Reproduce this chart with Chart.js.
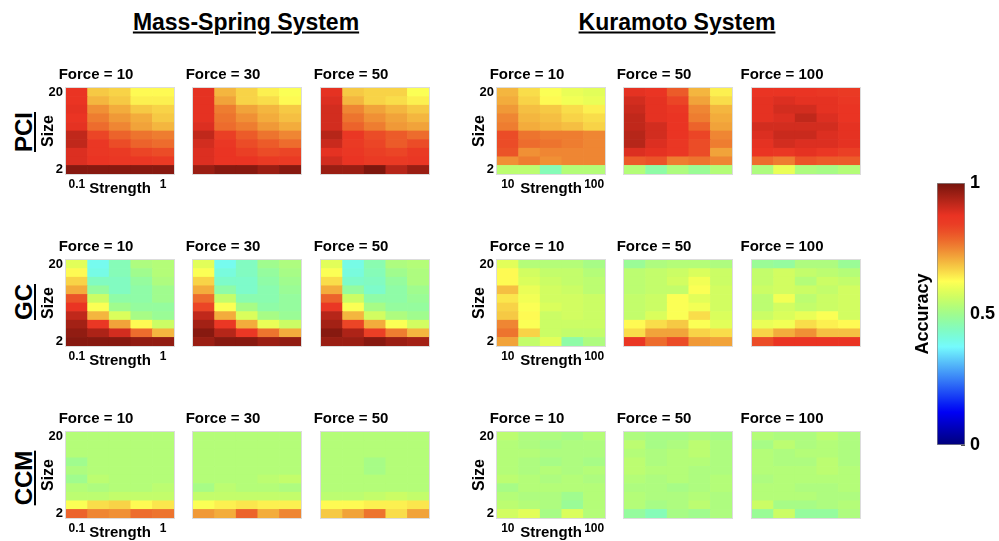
<!DOCTYPE html>
<html>
<head>
<meta charset="utf-8">
<script src="https://cdn.jsdelivr.net/npm/chart.js@4.4.1/dist/chart.umd.min.js"></script>
<style>
html, body { margin: 0; padding: 0; width: 999px; height: 541px; overflow: hidden; background: #fff; font-family: "Liberation Sans", Arial, sans-serif; }
canvas { position: absolute; }
.head { position: absolute; font-size: 23px; font-weight: bold; text-decoration: underline; white-space: nowrap; transform: translate(-50%, -50%); }
.rowlab { position: absolute; font-size: 24px; line-height: 26px; font-weight: bold; text-decoration: underline; white-space: nowrap; transform: translate(-50%, -50%) rotate(-90deg); }
</style>
</head>
<body>
<div class="head" style="left:246px; top:22px;">Mass-Spring System</div>
<div class="head" style="left:677px; top:22px;">Kuramoto System</div>
<div class="rowlab" style="left:24px; top:132px;">PCI</div>
<div class="rowlab" style="left:24px; top:302px;">GC</div>
<div class="rowlab" style="left:24px; top:478px;">CCM</div>
<div id="wrap"></div>

<script>
// categories
const methods = ['PCI', 'GC', 'CCM'];
const forcesMS = [10, 30, 50];
const forcesK = [10, 50, 100];
const sizes = ['2', '4', '6', '8', '10', '12', '14', '16', '18', '20'];
const strengthTicksMS = ['0.1', '', '', '', '1'];
const strengthTicksK = ['10', '', '', '', '100'];
const colorbarTicks = [0, 0.5, 1];
const colorbarMarks = [0, 0.1, 0.2, 0.3, 0.4, 0.5, 0.6, 0.7, 0.8, 0.9, 1];

// accuracy grids, rows listed from size 20 (top) down to size 2 (bottom)
const msPci10 = [
  [0.87, 0.68, 0.67, 0.63, 0.63],
  [0.87, 0.70, 0.68, 0.64, 0.64],
  [0.88, 0.74, 0.71, 0.68, 0.67],
  [0.87, 0.76, 0.73, 0.71, 0.68],
  [0.88, 0.78, 0.75, 0.72, 0.70],
  [0.92, 0.83, 0.79, 0.77, 0.76],
  [0.92, 0.86, 0.82, 0.79, 0.78],
  [0.89, 0.86, 0.85, 0.83, 0.82],
  [0.89, 0.87, 0.86, 0.86, 0.85],
  [0.98, 0.98, 0.98, 0.98, 0.98]
];
const msPci30 = [
  [0.88, 0.70, 0.67, 0.64, 0.62],
  [0.88, 0.72, 0.67, 0.66, 0.63],
  [0.88, 0.76, 0.72, 0.70, 0.68],
  [0.88, 0.77, 0.74, 0.71, 0.69],
  [0.89, 0.78, 0.76, 0.73, 0.71],
  [0.92, 0.84, 0.80, 0.77, 0.75],
  [0.90, 0.86, 0.82, 0.80, 0.78],
  [0.89, 0.87, 0.84, 0.82, 0.83],
  [0.89, 0.87, 0.87, 0.85, 0.85],
  [0.96, 0.98, 0.98, 0.96, 0.98]
];
const msPci50 = [
  [0.88, 0.68, 0.67, 0.67, 0.62],
  [0.89, 0.70, 0.67, 0.66, 0.64],
  [0.90, 0.75, 0.72, 0.70, 0.68],
  [0.90, 0.77, 0.74, 0.72, 0.70],
  [0.90, 0.79, 0.76, 0.73, 0.72],
  [0.93, 0.86, 0.82, 0.80, 0.78],
  [0.91, 0.85, 0.83, 0.80, 0.82],
  [0.88, 0.86, 0.84, 0.83, 0.85],
  [0.90, 0.87, 0.85, 0.85, 0.86],
  [0.96, 0.96, 0.99, 0.93, 0.96]
];
const kPci10 = [
  [0.70, 0.66, 0.62, 0.60, 0.59],
  [0.71, 0.67, 0.63, 0.61, 0.60],
  [0.73, 0.69, 0.68, 0.66, 0.64],
  [0.75, 0.70, 0.69, 0.67, 0.66],
  [0.76, 0.71, 0.70, 0.69, 0.67],
  [0.82, 0.77, 0.76, 0.76, 0.75],
  [0.82, 0.78, 0.77, 0.76, 0.75],
  [0.81, 0.74, 0.75, 0.75, 0.75],
  [0.74, 0.76, 0.74, 0.75, 0.75],
  [0.54, 0.54, 0.45, 0.53, 0.53]
];
const kPci50 = [
  [0.88, 0.87, 0.80, 0.70, 0.64],
  [0.90, 0.88, 0.83, 0.72, 0.66],
  [0.91, 0.88, 0.86, 0.75, 0.70],
  [0.92, 0.88, 0.87, 0.76, 0.71],
  [0.92, 0.90, 0.87, 0.79, 0.72],
  [0.93, 0.90, 0.87, 0.83, 0.75],
  [0.93, 0.89, 0.86, 0.82, 0.76],
  [0.89, 0.88, 0.86, 0.82, 0.72],
  [0.80, 0.81, 0.76, 0.77, 0.75],
  [0.53, 0.47, 0.52, 0.49, 0.53]
];
const kPci100 = [
  [0.87, 0.87, 0.87, 0.86, 0.85],
  [0.88, 0.89, 0.88, 0.88, 0.86],
  [0.88, 0.90, 0.90, 0.88, 0.87],
  [0.88, 0.89, 0.92, 0.89, 0.87],
  [0.90, 0.90, 0.90, 0.90, 0.88],
  [0.89, 0.91, 0.91, 0.89, 0.88],
  [0.88, 0.90, 0.89, 0.89, 0.88],
  [0.87, 0.86, 0.88, 0.86, 0.84],
  [0.78, 0.76, 0.81, 0.80, 0.80],
  [0.52, 0.60, 0.52, 0.51, 0.53]
];
const msGc10 = [
  [0.59, 0.39, 0.45, 0.52, 0.53],
  [0.63, 0.40, 0.45, 0.50, 0.53],
  [0.67, 0.44, 0.44, 0.48, 0.52],
  [0.71, 0.48, 0.44, 0.47, 0.50],
  [0.81, 0.56, 0.47, 0.47, 0.50],
  [0.87, 0.62, 0.50, 0.48, 0.48],
  [0.92, 0.70, 0.58, 0.51, 0.49],
  [0.95, 0.86, 0.72, 0.63, 0.56],
  [0.97, 0.94, 0.90, 0.78, 0.70],
  [0.98, 0.98, 0.98, 0.97, 0.97]
];
const msGc30 = [
  [0.59, 0.39, 0.44, 0.50, 0.52],
  [0.62, 0.41, 0.44, 0.48, 0.51],
  [0.67, 0.43, 0.43, 0.47, 0.50],
  [0.71, 0.47, 0.43, 0.46, 0.49],
  [0.78, 0.55, 0.46, 0.46, 0.48],
  [0.83, 0.62, 0.51, 0.47, 0.48],
  [0.92, 0.71, 0.58, 0.51, 0.49],
  [0.95, 0.86, 0.71, 0.60, 0.56],
  [0.98, 0.93, 0.86, 0.77, 0.71],
  [0.96, 0.98, 0.98, 0.96, 0.97]
];
const msGc50 = [
  [0.59, 0.40, 0.46, 0.52, 0.53],
  [0.62, 0.41, 0.45, 0.50, 0.52],
  [0.66, 0.43, 0.44, 0.48, 0.52],
  [0.71, 0.48, 0.43, 0.47, 0.50],
  [0.79, 0.56, 0.47, 0.47, 0.49],
  [0.86, 0.62, 0.51, 0.48, 0.48],
  [0.93, 0.70, 0.57, 0.52, 0.50],
  [0.95, 0.83, 0.71, 0.62, 0.57],
  [0.98, 0.94, 0.84, 0.76, 0.70],
  [0.96, 0.96, 0.98, 0.96, 0.95]
];
const kGc10 = [
  [0.59, 0.53, 0.53, 0.53, 0.51],
  [0.63, 0.57, 0.55, 0.55, 0.53],
  [0.63, 0.58, 0.56, 0.55, 0.54],
  [0.69, 0.60, 0.57, 0.56, 0.54],
  [0.65, 0.61, 0.57, 0.57, 0.56],
  [0.67, 0.62, 0.58, 0.57, 0.56],
  [0.68, 0.63, 0.56, 0.57, 0.56],
  [0.75, 0.62, 0.56, 0.56, 0.56],
  [0.77, 0.67, 0.56, 0.55, 0.55],
  [0.72, 0.55, 0.59, 0.47, 0.52]
];
const kGc50 = [
  [0.49, 0.52, 0.53, 0.53, 0.52],
  [0.54, 0.55, 0.56, 0.58, 0.56],
  [0.54, 0.55, 0.57, 0.61, 0.56],
  [0.54, 0.55, 0.55, 0.62, 0.57],
  [0.55, 0.56, 0.62, 0.59, 0.57],
  [0.55, 0.56, 0.62, 0.61, 0.57],
  [0.55, 0.58, 0.62, 0.66, 0.58],
  [0.63, 0.66, 0.68, 0.62, 0.59],
  [0.66, 0.72, 0.72, 0.67, 0.66],
  [0.86, 0.78, 0.82, 0.73, 0.72]
];
const kGc100 = [
  [0.49, 0.48, 0.52, 0.52, 0.49],
  [0.55, 0.57, 0.55, 0.54, 0.53],
  [0.55, 0.57, 0.53, 0.56, 0.55],
  [0.56, 0.57, 0.56, 0.55, 0.57],
  [0.54, 0.61, 0.54, 0.56, 0.57],
  [0.54, 0.57, 0.55, 0.56, 0.57],
  [0.56, 0.58, 0.60, 0.62, 0.57],
  [0.60, 0.61, 0.66, 0.64, 0.63],
  [0.67, 0.71, 0.74, 0.69, 0.69],
  [0.82, 0.87, 0.87, 0.87, 0.87]
];
const msCcm10 = [
  [0.53, 0.53, 0.53, 0.53, 0.53],
  [0.53, 0.53, 0.53, 0.53, 0.53],
  [0.53, 0.53, 0.53, 0.53, 0.53],
  [0.50, 0.53, 0.53, 0.53, 0.53],
  [0.52, 0.53, 0.53, 0.53, 0.53],
  [0.50, 0.54, 0.53, 0.53, 0.53],
  [0.53, 0.52, 0.53, 0.53, 0.54],
  [0.54, 0.54, 0.55, 0.55, 0.55],
  [0.62, 0.66, 0.67, 0.63, 0.65],
  [0.79, 0.75, 0.74, 0.78, 0.77]
];
const msCcm30 = [
  [0.53, 0.53, 0.53, 0.53, 0.53],
  [0.53, 0.53, 0.53, 0.53, 0.53],
  [0.53, 0.53, 0.53, 0.53, 0.53],
  [0.53, 0.53, 0.53, 0.53, 0.53],
  [0.53, 0.53, 0.53, 0.53, 0.53],
  [0.53, 0.53, 0.53, 0.54, 0.55],
  [0.51, 0.54, 0.53, 0.53, 0.52],
  [0.55, 0.55, 0.55, 0.55, 0.55],
  [0.62, 0.64, 0.65, 0.64, 0.64],
  [0.73, 0.71, 0.79, 0.71, 0.75]
];
const msCcm50 = [
  [0.53, 0.53, 0.53, 0.53, 0.53],
  [0.53, 0.53, 0.53, 0.53, 0.53],
  [0.53, 0.53, 0.53, 0.53, 0.53],
  [0.53, 0.53, 0.51, 0.53, 0.53],
  [0.53, 0.53, 0.51, 0.53, 0.53],
  [0.53, 0.53, 0.53, 0.53, 0.53],
  [0.53, 0.53, 0.53, 0.53, 0.53],
  [0.54, 0.54, 0.55, 0.56, 0.55],
  [0.63, 0.63, 0.64, 0.64, 0.65],
  [0.68, 0.72, 0.77, 0.66, 0.72]
];
const kCcm10 = [
  [0.54, 0.52, 0.52, 0.51, 0.53],
  [0.53, 0.52, 0.51, 0.52, 0.52],
  [0.53, 0.53, 0.52, 0.52, 0.52],
  [0.53, 0.52, 0.51, 0.52, 0.51],
  [0.53, 0.52, 0.53, 0.52, 0.53],
  [0.54, 0.53, 0.52, 0.53, 0.52],
  [0.51, 0.53, 0.53, 0.53, 0.53],
  [0.53, 0.52, 0.52, 0.50, 0.53],
  [0.54, 0.53, 0.52, 0.49, 0.53],
  [0.57, 0.59, 0.51, 0.58, 0.53]
];
const kCcm50 = [
  [0.52, 0.51, 0.51, 0.52, 0.51],
  [0.54, 0.51, 0.52, 0.54, 0.52],
  [0.53, 0.52, 0.53, 0.54, 0.52],
  [0.54, 0.52, 0.53, 0.53, 0.52],
  [0.54, 0.53, 0.53, 0.52, 0.52],
  [0.53, 0.52, 0.53, 0.52, 0.53],
  [0.52, 0.52, 0.51, 0.52, 0.53],
  [0.53, 0.52, 0.52, 0.53, 0.52],
  [0.53, 0.51, 0.52, 0.54, 0.52],
  [0.48, 0.45, 0.51, 0.50, 0.52]
];
const kCcm100 = [
  [0.53, 0.52, 0.52, 0.54, 0.52],
  [0.51, 0.54, 0.52, 0.53, 0.52],
  [0.53, 0.52, 0.53, 0.53, 0.52],
  [0.53, 0.52, 0.52, 0.54, 0.52],
  [0.53, 0.53, 0.53, 0.54, 0.53],
  [0.52, 0.53, 0.53, 0.53, 0.53],
  [0.53, 0.53, 0.52, 0.52, 0.53],
  [0.53, 0.53, 0.53, 0.52, 0.52],
  [0.56, 0.51, 0.51, 0.52, 0.53],
  [0.49, 0.56, 0.48, 0.48, 0.52]
];

const gridsMS = [[msPci10, msPci30, msPci50], [msGc10, msGc30, msGc50], [msCcm10, msCcm30, msCcm50]];
const gridsK = [[kPci10, kPci50, kPci100], [kGc10, kGc50, kGc100], [kCcm10, kCcm50, kCcm100]];

// layout of plot areas
const colLeftMS = [66, 193, 321];
const colLeftK = [497, 624, 752];
const rowTop = [88, 260, 432];
const plotW = 108, plotH = 86;
const yAxisW = 48, titleH = 22, xAxisH = 32, padR = 4;

Chart.defaults.font.family = '"Liberation Sans", Arial, sans-serif';
Chart.defaults.color = '#000';

function clamp(x) { return Math.max(0, Math.min(1, x)); }

// matlab jet, shown the way the screenshot shows it (sRGB values in a Display P3 space)
function toLin(c) { return c <= 0.04045 ? c / 12.92 : Math.pow((c + 0.055) / 1.055, 2.4); }
function toGam(c) { c = clamp(c); return c <= 0.0031308 ? 12.92 * c : 1.055 * Math.pow(c, 1 / 2.4) - 0.055; }
function jet(v) {
  const r = toLin(clamp(1.5 - Math.abs(4 * v - 3)));
  const g = toLin(clamp(1.5 - Math.abs(4 * v - 2)));
  const b = toLin(clamp(1.5 - Math.abs(4 * v - 1)));
  const R = toGam(0.8225 * r + 0.1774 * g);
  const G = toGam(0.0332 * r + 0.9669 * g);
  const B = toGam(0.0171 * r + 0.0724 * g + 0.9108 * b);
  return 'rgb(' + Math.round(R * 255) + ',' + Math.round(G * 255) + ',' + Math.round(B * 255) + ')';
}

const frame = {
  id: 'frame',
  afterDatasetsDraw: function (chart, args, opts) {
    const a = chart.chartArea, ctx = chart.ctx;
    ctx.save();
    ctx.strokeStyle = opts.color || '#d9d9d9';
    ctx.lineWidth = 1;
    ctx.strokeRect(Math.round(a.left) - 0.5, Math.round(a.top) - 0.5, Math.round(a.right - a.left) + 1, Math.round(a.bottom - a.top) + 1);
    ctx.restore();
  }
};

function makeCanvas(left, top, w, h) {
  const c = document.createElement('canvas');
  c.width = w; c.height = h;
  c.style.left = left + 'px'; c.style.top = top + 'px';
  c.style.width = w + 'px'; c.style.height = h + 'px';
  document.getElementById('wrap').appendChild(c);
  return c;
}

function heatmap(left, top, grid, force, xticks, first) {
  const canvas = makeCanvas(left - yAxisW, top - titleH, yAxisW + plotW + padR, titleH + plotH + xAxisH);
  const datasets = sizes.map(function (s, i) {
    const row = grid[grid.length - 1 - i];
    return {
      label: 'Size ' + s,
      data: row.map(function () { return 1; }),
      backgroundColor: row.map(jet),
      borderWidth: 0,
      barPercentage: 1,
      categoryPercentage: 1
    };
  });
  new Chart(canvas, {
    type: 'bar',
    data: { labels: xticks, datasets: datasets },
    plugins: [frame],
    options: {
      responsive: false,
      animation: false,
      devicePixelRatio: 1,
      layout: { padding: { right: padR } },
      plugins: {
        legend: { display: false },
        tooltip: { enabled: false },
        frame: { color: '#dcdcdc' },
        title: {
          display: true,
          text: 'Force = ' + force,
          font: { size: 15, weight: 'bold' },
          color: '#000',
          padding: { top: 0, bottom: 4 }
        }
      },
      scales: {
        x: {
          stacked: true,
          grid: { display: false, drawTicks: false },
          border: { display: false },
          ticks: { display: first, autoSkip: false, maxRotation: 0, padding: 3, font: { size: 12, weight: 'bold' } },
          title: { display: first, text: 'Strength', font: { size: 15, weight: 'bold' }, padding: { top: 0, bottom: 8 } },
          afterFit: function (s) { s.height = xAxisH; }
        },
        y: {
          stacked: true,
          min: 0,
          max: sizes.length,
          grid: { display: false, drawTicks: false },
          border: { display: false },
          afterBuildTicks: function (s) { s.ticks = [{ value: 0.5 }, { value: sizes.length - 0.5 }]; },
          ticks: {
            display: first,
            padding: 3,
            font: { size: 13, weight: 'bold' },
            callback: function (v) { return sizes[Math.floor(v)]; }
          },
          title: { display: first, text: 'Size', font: { size: 16, weight: 'bold' }, padding: { top: 21, bottom: 0 } },
          afterFit: function (s) { s.width = yAxisW; }
        }
      }
    }
  });
}

methods.forEach(function (m, r) {
  forcesMS.forEach(function (f, c) {
    heatmap(colLeftMS[c], rowTop[r], gridsMS[r][c], f, strengthTicksMS, c === 0);
  });
  forcesK.forEach(function (f, c) {
    heatmap(colLeftK[c], rowTop[r], gridsK[r][c], f, strengthTicksK, c === 0);
  });
});

// colorbar
const cbLeft = 937, cbTop = 183, cbW = 28, cbH = 262;
const cbCanvas = makeCanvas(cbLeft - 40, cbTop - 14, 40 + cbW + 40, 14 + cbH + 14);
let cbGrad = null;
new Chart(cbCanvas, {
  type: 'bar',
  data: {
    labels: [''],
    datasets: [{
      data: [[0, 1]],
      backgroundColor: function (ctx) {
        const ca = ctx.chart.chartArea;
        if (!ca) return null;
        if (!cbGrad) {
          cbGrad = ctx.chart.ctx.createLinearGradient(0, ca.bottom, 0, ca.top);
          for (let k = 0; k <= 32; k++) cbGrad.addColorStop(k / 32, jet(k / 32));
        }
        return cbGrad;
      },
      borderWidth: 1,
      borderColor: '#8a8a8a',
      borderSkipped: false,
      barPercentage: 1,
      categoryPercentage: 1
    }]
  },
  options: {
    responsive: false,
    animation: false,
    devicePixelRatio: 1,
    layout: { padding: { top: 14, bottom: 14 } },
    plugins: { legend: { display: false }, tooltip: { enabled: false } },
    scales: {
      x: { display: false },
      y: {
        position: 'left', min: 0, max: 1,
        ticks: { display: false },
        grid: { display: false, drawTicks: false },
        border: { display: false },
        title: { display: true, text: 'Accuracy', font: { size: 18, weight: 'bold' }, padding: { top: 15, bottom: 0 } },
        afterFit: function (s) { s.width = 40; }
      },
      y2: {
        position: 'right', min: 0, max: 1, z: 1,
        afterBuildTicks: function (s) { s.ticks = colorbarMarks.map(function (v) { return { value: v }; }); },
        ticks: {
          padding: 9,
          font: { size: 18, weight: 'bold' },
          callback: function (v) { return colorbarTicks.indexOf(v) >= 0 ? String(v) : ''; }
        },
        grid: { display: true, drawOnChartArea: false, drawTicks: true, tickLength: -4, color: '#555' },
        border: { display: false },
        afterFit: function (s) { s.width = 40; s.paddingTop = 0; s.paddingBottom = 0; }
      }
    }
  }
});
</script>
</body>
</html>
